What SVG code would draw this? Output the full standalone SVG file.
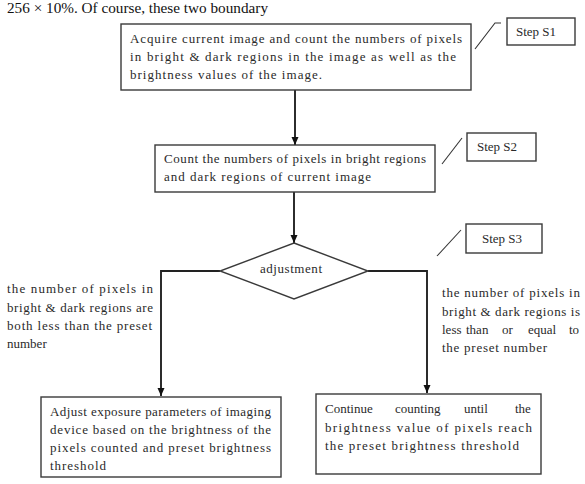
<svg xmlns="http://www.w3.org/2000/svg" width="585" height="484" viewBox="0 0 585 484">
<style>
.box{fill:#fff;stroke:#3a3a3a;stroke-width:1.4}
.t{font-family:"Liberation Serif","Times New Roman",serif;font-size:13px;fill:#2a2a2a}
.hd{font-family:"Liberation Serif","Times New Roman",serif;font-size:14.5px;fill:#111}
.con{fill:none;stroke:#222;stroke-width:1.9}
.lead{fill:none;stroke:#333;stroke-width:1.1}
</style>
<defs>
<marker id="ah" markerUnits="userSpaceOnUse" markerWidth="8" markerHeight="8" refX="8" refY="3.5" orient="auto">
<path d="M0,0 L8,3.5 L0,7 z" fill="#111"/>
</marker>
</defs>
<text class="hd" x="7" y="13" textLength="261" lengthAdjust="spacingAndGlyphs">256 × 10%. Of course, these two boundary</text>

<g id="connectors">
<line class="con" x1="295" y1="90" x2="295" y2="145" marker-end="url(#ah)"/>
<line class="con" x1="294" y1="192" x2="294" y2="243" marker-end="url(#ah)"/>
<polyline class="con" points="220,271 161,271 161,396" marker-end="url(#ah)"/>
<polyline class="con" points="368,271 427,271 427,393" marker-end="url(#ah)"/>
<polyline class="lead" points="475,49 495,23 501,23"/>
<line class="lead" x1="442" y1="164" x2="462" y2="138"/>
<line class="lead" x1="437" y1="256" x2="461" y2="230"/>
</g>

<g id="s1">
<rect class="box" x="121" y="24" width="350" height="66"/>
<text class="t" x="130" y="43" textLength="332" lengthAdjust="spacing">Acquire current image and count the numbers of pixels</text>
<text class="t" x="130" y="61" textLength="326" lengthAdjust="spacing">in bright &amp; dark regions in the image as well as the</text>
<text class="t" x="130" y="79" textLength="192" lengthAdjust="spacing">brightness values of the image.</text>
</g>

<g id="step1">
<rect class="box" x="507" y="18" width="68" height="27"/>
<text class="t" x="516" y="36">Step S1</text>
</g>

<g id="s2">
<rect class="box" x="155" y="145" width="280" height="47"/>
<text class="t" x="164" y="163" textLength="262" lengthAdjust="spacing">Count the numbers of pixels in bright regions</text>
<text class="t" x="164" y="181" textLength="207" lengthAdjust="spacing">and dark regions of current image</text>
</g>

<g id="step2">
<rect class="box" x="467" y="133" width="69" height="28"/>
<text class="t" x="477" y="151">Step S2</text>
</g>

<g id="s3">
<polygon class="box" points="294,243 368,271 294,299 220,271"/>
<text class="t" x="260" y="273" textLength="62" lengthAdjust="spacing">adjustment</text>
</g>

<g id="step3">
<rect class="box" x="466" y="224" width="76" height="29"/>
<text class="t" x="482" y="243">Step S3</text>
</g>

<g id="label-left">
<text class="t" x="7" y="293" textLength="146" lengthAdjust="spacing">the number of pixels in</text>
<text class="t" x="7" y="312" textLength="146" lengthAdjust="spacing">bright &amp; dark regions are</text>
<text class="t" x="7" y="330" textLength="145" lengthAdjust="spacing">both less than the preset</text>
<text class="t" x="7" y="348">number</text>
</g>

<g id="label-right">
<text class="t" x="442" y="297" textLength="138" lengthAdjust="spacing">the number of pixels in</text>
<text class="t" x="442" y="316" textLength="138" lengthAdjust="spacing">bright &amp; dark regions is</text>
<text class="t" y="334"><tspan x="442">less</tspan><tspan x="466">than</tspan><tspan x="502">or</tspan><tspan x="528">equal</tspan><tspan x="569">to</tspan></text>
<text class="t" x="442" y="352" textLength="105" lengthAdjust="spacing">the preset number</text>
</g>

<g id="s4">
<rect class="box" x="41" y="397" width="240" height="80"/>
<text class="t" x="50" y="416" textLength="221" lengthAdjust="spacing">Adjust exposure parameters of imaging</text>
<text class="t" x="50" y="434" textLength="221" lengthAdjust="spacing">device based on the brightness of the</text>
<text class="t" x="50" y="452" textLength="221" lengthAdjust="spacing">pixels counted and preset brightness</text>
<text class="t" x="50" y="470" textLength="56" lengthAdjust="spacing">threshold</text>
</g>

<g id="s5">
<rect class="box" x="316" y="394" width="225" height="80"/>
<text class="t" y="413"><tspan x="325">Continue</tspan><tspan x="395">counting</tspan><tspan x="464">until</tspan><tspan x="515">the</tspan></text>
<text class="t" x="325" y="432" textLength="207" lengthAdjust="spacing">brightness value of pixels reach</text>
<text class="t" x="325" y="450" textLength="194" lengthAdjust="spacing">the preset brightness threshold</text>
</g>
</svg>
